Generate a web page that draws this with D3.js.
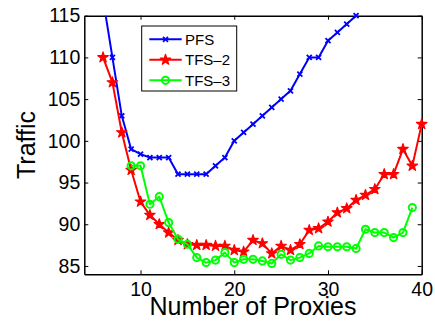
<!DOCTYPE html>
<html>
<head>
<meta charset="utf-8">
<script src="https://cdn.jsdelivr.net/npm/d3@7"></script>
<style>
  body { margin: 0; background: #fff; }
  svg { display: block; font-family: "Liberation Sans", Arial, sans-serif; }
</style>
</head>
<body>
<div id="chart"></div>
<script>
let W = 435, H = 326;
let margin = { top: 15.7, right: 13.3, bottom: 51.7, left: 84.3 },
    width = W - margin.left - margin.right,
    height = H - margin.top - margin.bottom;

// data
let pfsX  = [6, 7, 8, 9, 10, 11, 12, 13, 14, 15, 16, 17, 18, 19, 20, 21, 22, 23, 24, 25, 26, 27, 28, 29, 30, 31, 32, 33];
let pfsY  = [117, 110, 103, 99, 98.4, 98, 98, 98, 96, 96, 96, 96, 97, 98, 100, 101, 102, 103, 104, 105, 106, 108, 110, 110, 112, 113, 114, 115];

let tfs2X = [6, 7, 8, 9, 10, 11, 12, 13, 14, 15, 16, 17, 18, 19, 20, 21, 22, 23, 24, 25, 26, 27, 28, 29, 30, 31, 32, 33, 34, 35, 36, 37, 38, 39, 40];
let tfs2Y = [110, 107, 101, 96.5, 92.7, 91.1, 90, 89, 88.1, 87.6, 87.5, 87.5, 87.4, 87.4, 86.9, 86.7, 88.1, 87.7, 86.5, 87.4, 86.9, 87.6, 89.3, 89.5, 90.3, 91.4, 91.9, 92.9, 93.5, 94.2, 96, 96, 99, 97, 102];

let tfs3X = [9, 10, 11, 12, 13, 14, 15, 16, 17, 18, 19, 20, 21, 22, 23, 24, 25, 26, 27, 28, 29, 30, 31, 32, 33, 34, 35, 36, 37, 38, 39];
let tfs3Y = [97, 97, 92.4, 93.3, 90.2, 88.2, 87.6, 86, 85.4, 85.7, 86.6, 85.4, 85.8, 85.8, 85.6, 85.3, 86.4, 85.7, 86, 86.5, 87.4, 87.3, 87.3, 87.3, 87.1, 89.4, 89, 89, 88.4, 89, 92];

let seriesNames = ["PFS", "TFS\u20132", "TFS\u20133"];
let seriesColors = ["#0000ff", "#ff0000", "#00ff00"];
let xTicks = [10, 20, 30, 40];
let yTicks = [85, 90, 95, 100, 105, 110, 115];

let series = [
    { name: seriesNames[0], color: seriesColors[0], marker: "x", pts: pfsX.map((d, i) => [d, pfsY[i]]) },
    { name: seriesNames[1], color: seriesColors[1], marker: "star", pts: tfs2X.map((d, i) => [d, tfs2Y[i]]) },
    { name: seriesNames[2], color: seriesColors[2], marker: "circle", pts: tfs3X.map((d, i) => [d, tfs3Y[i]]) }
];

let svg = d3.select("#chart")
    .append("svg")
    .attr("width", W)
    .attr("height", H)
    .append("g")
    .attr("transform", "translate(" + margin.left + "," + margin.top + ")");

let x = d3.scaleLinear().domain([4, 40]).range([0, width]);
let y = d3.scaleLinear().domain([84, 115]).range([height, 0]);

svg.append("defs").append("clipPath").attr("id", "clip")
    .append("rect").attr("width", width).attr("height", height);

// axes, ticks inside like matlab
function styleAxis(g) {
    g.selectAll("path").attr("stroke", "#000").attr("stroke-width", 1.5);
    g.selectAll("line").attr("stroke", "#000").attr("stroke-width", 1);
    g.selectAll("text").attr("font-size", 19.5).attr("fill", "#000");
}

svg.append("g")
    .attr("transform", "translate(0," + height + ")")
    .call(d3.axisBottom(x).tickValues(xTicks).tickSizeInner(-4).tickSizeOuter(0).tickPadding(7.5))
    .call(styleAxis);
svg.append("g")
    .call(d3.axisTop(x).tickValues(xTicks).tickSizeInner(-4).tickSizeOuter(0).tickFormat(""))
    .call(styleAxis);
svg.append("g")
    .call(d3.axisLeft(y).tickValues(yTicks).tickSizeInner(-4).tickSizeOuter(0).tickPadding(4))
    .call(styleAxis);
svg.append("g")
    .attr("transform", "translate(" + width + ",0)")
    .call(d3.axisRight(y).tickValues(yTicks).tickSizeInner(-4).tickSizeOuter(0).tickFormat(""))
    .call(styleAxis);

let line = d3.line().x(d => x(d[0])).y(d => y(d[1]));

function drawMarker(g, type, color) {
    if (type === "x") {
        g.append("path")
            .attr("d", "M-2.5,-2.5L2.5,2.5M-2.5,2.5L2.5,-2.5")
            .attr("stroke", color).attr("stroke-width", 1.8).attr("fill", "none");
    } else if (type === "star") {
        g.append("path")
            .attr("d", d3.symbol(d3.symbolStar, 34)())
            .attr("fill", color).attr("stroke", color).attr("stroke-width", 1.2)
            .attr("stroke-linejoin", "round");
    } else {
        g.append("circle").attr("r", 3.6)
            .attr("fill", "none").attr("stroke", color).attr("stroke-width", 2);
    }
}

series.forEach(s => {
    svg.append("path")
        .datum(s.pts)
        .attr("clip-path", "url(#clip)")
        .attr("fill", "none")
        .attr("stroke", s.color)
        .attr("stroke-width", 2)
        .attr("stroke-linejoin", "round")
        .attr("d", line);

    s.pts.filter(d => d[1] <= 115 && d[1] >= 84).forEach(d => {
        let m = svg.append("g").attr("transform", "translate(" + x(d[0]) + "," + y(d[1]) + ")");
        drawMarker(m, s.marker, s.color);
    });
});

// legend
let lg = svg.append("g").attr("transform", "translate(" + (141.7 - margin.left) + "," + (26 - margin.top) + ")");
lg.append("rect")
    .attr("width", 95).attr("height", 65)
    .attr("fill", "#fff").attr("stroke", "#000").attr("stroke-width", 1);
series.forEach((s, i) => {
    let yy = 13.3 + i * 20.5;
    lg.append("line")
        .attr("x1", 7.6).attr("x2", 40)
        .attr("y1", yy).attr("y2", yy)
        .attr("stroke", s.color).attr("stroke-width", 2);
    let m = lg.append("g").attr("transform", "translate(23.8," + yy + ")");
    drawMarker(m, s.marker, s.color);
    lg.append("text")
        .attr("x", 43.3).attr("y", yy)
        .attr("dy", "0.36em")
        .attr("font-size", 15)
        .text(s.name);
});

// axis labels
svg.append("text")
    .attr("x", width / 2)
    .attr("y", 315 - margin.top)
    .attr("text-anchor", "middle")
    .attr("font-size", 25)
    .text("Number of Proxies");

svg.append("text")
    .attr("transform", "translate(" + (35 - margin.left) + "," + (height / 2) + ") rotate(-90)")
    .attr("text-anchor", "middle")
    .attr("font-size", 25)
    .text("Traffic");
</script>
</body>
</html>
